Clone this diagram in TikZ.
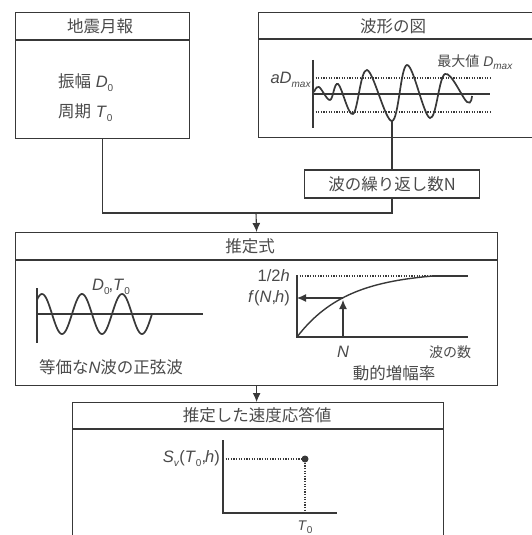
\documentclass[tikz,border=0pt]{standalone}
\usepackage{fontspec}
\setmainfont{Liberation Sans}
\newfontfamily\jp{Noto Sans CJK JP}
\usetikzlibrary{arrows.meta,positioning}
\definecolor{lineg}{HTML}{383838}
\definecolor{textg}{HTML}{4A4A4A}
\newcommand{\lowsub}[1]{\raisebox{-0.45ex}{\fontsize{10}{10}\selectfont #1}}

\begin{document}
\begin{tikzpicture}[x=1pt,y=-1pt,
  panel/.style={draw=lineg, line width=1.2pt, inner sep=0pt, anchor=north west},
  rule/.style={draw=lineg, line width=1.2pt},
  lbl/.style={text=textg, font=\fontsize{16.5}{18}\selectfont, inner sep=0pt},
  small/.style={text=textg, font=\fontsize{14}{16}\selectfont, inner sep=0pt},
  axis/.style={lineg, line width=1.1pt},
  dots/.style={lineg, line width=1.6pt, dash pattern=on 1.2pt off 1.4pt},
  curve/.style={lineg, line width=1.7pt},
  arr/.style={-{Latex[length=9pt,width=8pt]}, lineg, line width=1.1pt}]
 \useasboundingbox (0,0) rectangle (531,535);
 % panels
 \node[panel, minimum width=174pt, minimum height=126pt] (report) at (15,12) {};
 \node[panel, minimum width=280pt, minimum height=125pt] (wave) at (258,12) {};
 \node[panel, minimum width=482pt, minimum height=153pt] (estimate) at (15,232) {};
 \node[panel, minimum width=371pt, minimum height=140pt] (result) at (72,402) {};
 \draw[rule] (report.west |- 0,40) -- (report.east |- 0,40);
 \draw[rule] (wave.west |- 0,39) -- (wave.east |- 0,39);
 \draw[rule] (estimate.west |- 0,260) -- (estimate.east |- 0,260);
 \draw[rule] (result.west |- 0,429) -- (result.east |- 0,429);
 \node[lbl] (reporttitle) at (100,26) {\jp 地震月報};
 \node[lbl] (wavetitle) at (393,26) {\jp 波形の図};
 \node[lbl] (estimatetitle) at (250,246) {\jp 推定式};
 \node[lbl] (resulttitle) at (257,415) {\jp 推定した速度応答値};

 % earthquake report
 \node[lbl, anchor=west] (amp) at (58,83) {{\jp 振幅}\ \textit{D}\lowsub{0}};
 \node[lbl, anchor=west] (period) at (58,113) {{\jp 周期}\ \textit{T}\lowsub{0}};

 % waveform
 \draw[axis] (313,60) -- (313,128);
 \draw[axis] (313,94) -- (490,94);
 \foreach \y in {78,112} \draw[dots] (313,\y) -- (490,\y);
 \draw[curve] plot[smooth, tension=0.6] coordinates {(314,92) (319,87) (330,100) (338,84) (353,114) (367,70) (392,121) (407,65) (430,118) (445,74) (467,102) (472,96)};
 \coordinate (trough) at (392,121);
 \node[lbl, anchor=east] (amax) at (311,80) {\textit{aD}\lowsub{\textit{max}}};
 \node[small] (peak) at (475,62) {{\jp 最大値}\ \textit{D}\lowsub{\textit{max}}};

 \node[panel, anchor=center, minimum width=175pt, minimum height=28pt, lbl] (count) at (392,184) {\jp 波の繰り返し数N};

 % connectors
 \coordinate (join) at (256,213);
 \draw[rule] (trough) -- (count.north);
 \draw[rule] (report.south) |- (join) -| (count.south);
 \draw[arr] (join) -- (estimate.north);
 \draw[arr] (estimate.south) -- (estimate.south |- result.north);

 % equivalent sine wave
 \draw[axis] (37,288) -- (37,343);
 \draw[axis] (37,314) -- (203,314);
 \draw[curve] plot[domain=37:152, samples=120] (\x, {314-20*cos(9*(\x-42))});
 \node[lbl] (sinelabel) at (111,287) {\textit{D}\lowsub{0}\kern-1pt,\textit{T}\lowsub{0}};
 \node[lbl] (sinetext) at (111,367) {{\jp 等価な}\textit{N}{\jp 波の正弦波}};

 % dynamic amplification
 \draw[axis] (297,275) -- (297,337) -- (468,337);
 \draw[dots] (297,276) -- (433,276);
 \draw[axis] (433,276) -- (468,276);
 \draw[curve, line width=1.4pt] plot[domain=297:433, samples=80] (\x, {337-61*(1-exp(-(\x-297)/50))/0.934});
 \coordinate (nbase) at (343,337);
 \coordinate (nhit) at (343,300);
 \coordinate (fhit) at (297,298);
 \draw[arr] (nbase) -- (nhit);
 \draw[arr] (nhit |- fhit) -- (fhit);
 \node[lbl, anchor=east] (halfh) at (290,276) {1/2\textit{h}};
 \node[lbl, anchor=east] (fnh) at (290,298) {\textit{f}(\textit{N},\kern-1pt\textit{h})};
 \node[lbl] (nlabel) at (343,352) {\textit{N}};
 \node[small] (countaxis) at (450,352) {\jp 波の数};
 \node[lbl] (amplabel) at (394,373) {\jp 動的増幅率};

 % estimated velocity response
 \draw[axis] (223,440) -- (223,513) -- (337,513);
 \node[fill=lineg, circle, inner sep=0pt, minimum size=7pt] (sv) at (305,459) {};
 \draw[dots] (223,459) -- (sv);
 \draw[dots] (sv) -- (305,513);
 \node[lbl, anchor=east] (svlabel) at (220,459) {\textit{S}\lowsub{\textit{v}}(\textit{T}\lowsub{0},\kern-1pt\textit{h})};
 \node[small] (tlabel) at (305,527) {\textit{T}\lowsub{0}};
\end{tikzpicture}
\end{document}
